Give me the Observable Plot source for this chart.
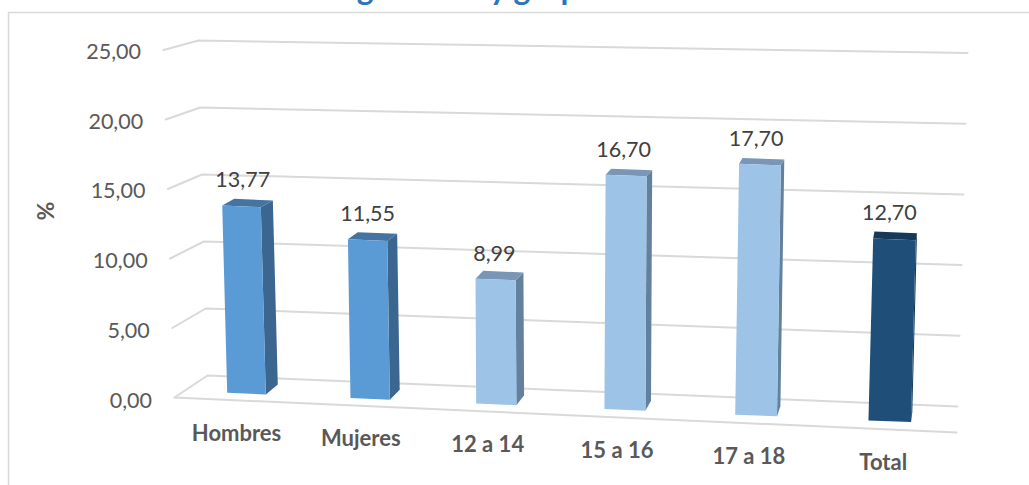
<!DOCTYPE html>
<html><head><meta charset="utf-8">
<style>html,body{margin:0;padding:0;background:#fff}svg{display:block}</style>
<script src="https://cdn.jsdelivr.net/npm/d3@7"></script>
<script src="https://cdn.jsdelivr.net/npm/@observablehq/plot@0.6"></script>
</head><body>
<script>
const categories = ["Hombres","Mujeres","12 a 14","15 a 16","17 a 18","Total"];
const values = [13.77,11.55,8.99,16.70,17.70,12.70];
const groups = ["sexo","sexo","edad","edad","edad","total"];
const gridTicks = [0,5,10,15,20,25];
const tickLabels = ["0,00","5,00","10,00","15,00","20,00","25,00"];
const valueLabels = ["13,77","11,55","8,99","16,70","17,70","12,70"];
const title = "según sexo y grupo de edad";
const yTitle = "%";

const W = 1029, H = 485;
const palette = {
  sexo:  {front:"#5b9bd5", side:"#3b6690", top:"#44749f"},
  edad:  {front:"#9dc3e6", side:"#64809f", top:"#7a96b6"},
  total: {front:"#1f4e79", side:"#153a5c", top:"#16395a"}
};
// perspective of the 3D chart box, expressed in pixels and turned into y-scale units
const toY = py => (397 - py) / 13.9;
const wallFront = v => [174 - .44*v, 397 - 13.9*v];
const backLeft  = v => [207 - .36*v, 375 - 13.4*v];
const backRight = v => [957 + .40*v, 406 - 14.14*v];
const pt = ([x, py]) => ({x, y: toY(py)});

// front-left foot of bar i, its width and its vertical rate
const footX = i => 226.7 + 122*i + 1.25*i*i;
const footY = i => 392.3 + .0432*(footX(i) - 226.7);
const barW  = i => 38.6 + .8*i;
const rate  = i => 13.6 + .145*i;
const lean  = i => -.36 + .00114*(footX(i) - 226.7);
const depX  = i => 12 - 2.15*i;
const depY  = v => -10 + .24*v;

function corner(i, v, side, back) {
  const x = footX(i) + lean(i)*v + side*barW(i) + back*depX(i);
  const py = footY(i) - rate(i)*v + side*1.6 + back*depY(v);
  return pt([x, py]);
}
const faces = [];
values.forEach((v,i) => {
  const c = palette[groups[i]];
  const add = (name, fill, cs) => cs.forEach(p => faces.push({...p, id:`${i}-${name}`, fill}));
  add("side", c.side, [corner(i,0,1,0),corner(i,0,1,1),corner(i,v,1,1),corner(i,v,1,0)]);
  add("top", c.top, [corner(i,v,0,0),corner(i,v,0,1),corner(i,v,1,1),corner(i,v,1,0)]);
  add("front", c.front, [corner(i,0,0,0),corner(i,0,1,0),corner(i,v,1,0),corner(i,v,0,0)]);
});
const grid = gridTicks.flatMap(v => [wallFront(v),backLeft(v),backRight(v)].map(p => ({...pt(p), v})));
const floorFront = [[174,397],[956,432]].map(pt);

const ticks = gridTicks.map((v,i) => ({...pt([wallFront(v)[0]-22.5, wallFront(v)[1]+3.6-.07*v]), t:tickLabels[i]}));
const dataLabels = values.map((v,i) => ({
  ...pt([footX(i) + lean(i)*v + barW(i)/2 + 1.2 - 1.25*i, footY(i) - rate(i)*v - 25]), t:valueLabels[i]}));
const catLabels = categories.map((c,i) => ({
  ...pt([footX(i) + barW(i)/2 - 10 + i*.7, 433 + 5.8*i]), t:c}));

const font = "Lato, Carlito, Calibri, sans-serif";
const plot = Plot.plot({
  width: W, height: H, margin: 0,
  style: {background:"#fff", fontFamily: font},
  x: {domain:[0,W], axis:null},
  y: {domain:[toY(H), toY(0)], axis:null},
  color: {type:"identity"},
  marks: [
    Plot.line([pt([8,485]),pt([8,12]),pt([1029,12])], {x:"x", y:"y", stroke:"#d9d9d9", strokeWidth:1.5}),
    Plot.text([pt([521,-10.8])], {x:"x", y:"y", text:()=>title, fontSize:32, fontWeight:700, fill:"#2e75b6"}),
    Plot.line(grid, {x:"x", y:"y", z:"v", stroke:"#d9d9d9", strokeWidth:2, curve:"linear"}),
    Plot.line(floorFront, {x:"x", y:"y", stroke:"#d9d9d9", strokeWidth:2}),
    Plot.line(faces, {x:"x", y:"y", z:"id", fill:"fill", stroke:null}),
    Plot.text(ticks, {x:"x", y:"y", text:"t", textAnchor:"end", fontSize:21.5, fill:"#595959"}),
    Plot.text(dataLabels, {x:"x", y:"y", text:"t", fontSize:21.5, fill:"#404040"}),
    Plot.text(catLabels, {x:"x", y:"y", text:"t", fontSize:22, fontWeight:700, fill:"#595959"}),
    Plot.text([pt([46.5,210.5])], {x:"x", y:"y", text:()=>yTitle, rotate:-90, fontSize:23, fontWeight:700, fill:"#595959"})
  ]
});
document.body.appendChild(plot);
</script>
</body></html>
